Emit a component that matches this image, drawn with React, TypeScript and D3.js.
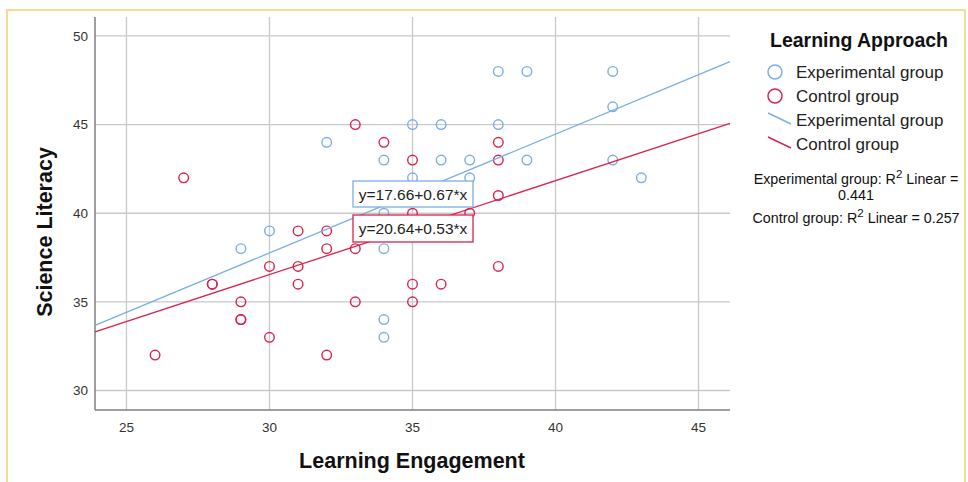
import * as d3 from 'd3';

// Learning Engagement (x) vs Science Literacy (y)
const expX = [29, 30, 32, 34, 34, 34, 34, 34, 35, 35, 36, 36, 37, 37, 38, 38, 39, 39, 42, 42, 42, 43];
const expY = [38, 39, 44, 43, 40, 38, 34, 33, 45, 42, 45, 43, 43, 42, 48, 45, 48, 43, 48, 46, 43, 42];
const ctlX = [26, 27, 28, 28, 29, 29, 29, 30, 30, 31, 31, 31, 32, 32, 32, 33, 33, 33, 34, 35, 35, 35, 35, 36, 37, 38, 38, 38, 38];
const ctlY = [32, 42, 36, 36, 35, 34, 34, 37, 33, 39, 37, 36, 39, 38, 32, 45, 38, 35, 44, 43, 40, 36, 35, 36, 40, 44, 43, 41, 37];

const fits = [
  { name: 'Experimental group', a: 17.66, b: 0.67, r2: '0.441' },
  { name: 'Control group', a: 20.64, b: 0.53, r2: '0.257' },
];
const xTicks = [25, 30, 35, 40, 45];
const yTicks = [30, 35, 40, 45, 50];

const BLUE = '#7aaee6';
const RED = '#d8234d';
const FONT = '"Liberation Sans", Arial, sans-serif';

export default function App() {
  const left = 95, right = 730, top = 17, bottom = 410;
  const x = d3.scaleLinear([23.9, 46.1], [left, right]);
  const y = d3.scaleLinear([28.9, 51.07], [bottom, top]);
  const line = (a: number, b: number) =>
    d3.line<number>().x((v) => x(v)).y((v) => y(a + b * v))(x.domain());

  const exp = expX.map((v, i) => [v, expY[i]]);
  const ctl = ctlX.map((v, i) => [v, ctlY[i]]);

  return (
    <svg width={968} height={482} style={{ position: 'absolute', left: 0, top: 0, background: '#fff' }} fontFamily={FONT}>
      <rect x={7} y={10} width={958} height={480} fill="#fff" stroke="#f3dc93" strokeWidth={2} />
      {/* grid */}
      {xTicks.map((t) => (
        <line key={'gx' + t} x1={x(t)} x2={x(t)} y1={top} y2={bottom} stroke="#c9c9c9" strokeWidth={1.3} />
      ))}
      {yTicks.map((t) => (
        <line key={'gy' + t} x1={left} x2={right} y1={y(t)} y2={y(t)} stroke="#c9c9c9" strokeWidth={1.3} />
      ))}
      <line x1={left} x2={left} y1={top} y2={bottom} stroke="#7f7f7f" strokeWidth={1.5} />
      <line x1={left} x2={right} y1={bottom} y2={bottom} stroke="#7f7f7f" strokeWidth={1.5} />
      {yTicks.map((t) => (
        <text key={'ty' + t} x={88} y={y(t)} dy="0.35em" textAnchor="end" fontSize={13.5} fill="#333">{t}</text>
      ))}
      {xTicks.map((t) => (
        <text key={'tx' + t} x={x(t)} y={432} textAnchor="middle" fontSize={13.5} fill="#333">{t}</text>
      ))}
      <text x={412} y={468} textAnchor="middle" fontSize={21.5} fontWeight="bold" fill="#111">Learning Engagement</text>
      <text transform="translate(52,232) rotate(-90)" textAnchor="middle" fontSize={21.5} fontWeight="bold" fill="#111">Science Literacy</text>

      {/* points */}
      {exp.map(([a, b], i) => (
        <circle key={'e' + i} cx={x(a)} cy={y(b)} r={4.8} fill="none" stroke={BLUE} strokeWidth={1.4} />
      ))}
      {ctl.map(([a, b], i) => (
        <circle key={'c' + i} cx={x(a)} cy={y(b)} r={4.8} fill="none" stroke={RED} strokeWidth={1.4} />
      ))}
      {/* fit lines */}
      <path d={line(fits[0].a, fits[0].b) || ''} fill="none" stroke={BLUE} strokeWidth={1.3} />
      <path d={line(fits[1].a, fits[1].b) || ''} fill="none" stroke={RED} strokeWidth={1.3} />

      {/* equation labels */}
      <rect x={353} y={181} width={120} height={26} fill="#fff" stroke={BLUE} strokeWidth={1.3} />
      <text x={413} y={199.5} textAnchor="middle" fontSize={15.5} fill="#222">{`y=${fits[0].a}+${fits[0].b}*x`}</text>
      <rect x={353} y={215} width={120} height={27} fill="#fff" stroke={RED} strokeWidth={1.3} />
      <text x={413} y={234} textAnchor="middle" fontSize={15.5} fill="#222">{`y=${fits[1].a}+${fits[1].b}*x`}</text>

      {/* legend */}
      <text x={859} y={47} textAnchor="middle" fontSize={19.5} fontWeight="bold" fill="#111">Learning Approach</text>
      <circle cx={775} cy={72} r={7} fill="none" stroke={BLUE} strokeWidth={1.5} />
      <circle cx={775} cy={96} r={7} fill="none" stroke={RED} strokeWidth={1.5} />
      <line x1={768} y1={113} x2={791} y2={124} stroke={BLUE} strokeWidth={1.4} />
      <line x1={768} y1={137} x2={791} y2={148} stroke={RED} strokeWidth={1.4} />
      {[fits[0].name, fits[1].name, fits[0].name, fits[1].name].map((n, i) => (
        <text key={'l' + i} x={796} y={78 + i * 24} fontSize={17} fill="#222">{n}</text>
      ))}
      <text x={856} y={184} textAnchor="middle" fontSize={14.3} fill="#111">
        {fits[0].name}: R<tspan dy={-6} fontSize={11.5}>2</tspan><tspan dy={6}> Linear =</tspan>
      </text>
      <text x={856} y={200} textAnchor="middle" fontSize={14.3} fill="#111">{fits[0].r2}</text>
      <text x={856} y={223} textAnchor="middle" fontSize={14.3} fill="#111">
        {fits[1].name}: R<tspan dy={-6} fontSize={11.5}>2</tspan><tspan dy={6}> Linear = {fits[1].r2}</tspan>
      </text>
    </svg>
  );
}
